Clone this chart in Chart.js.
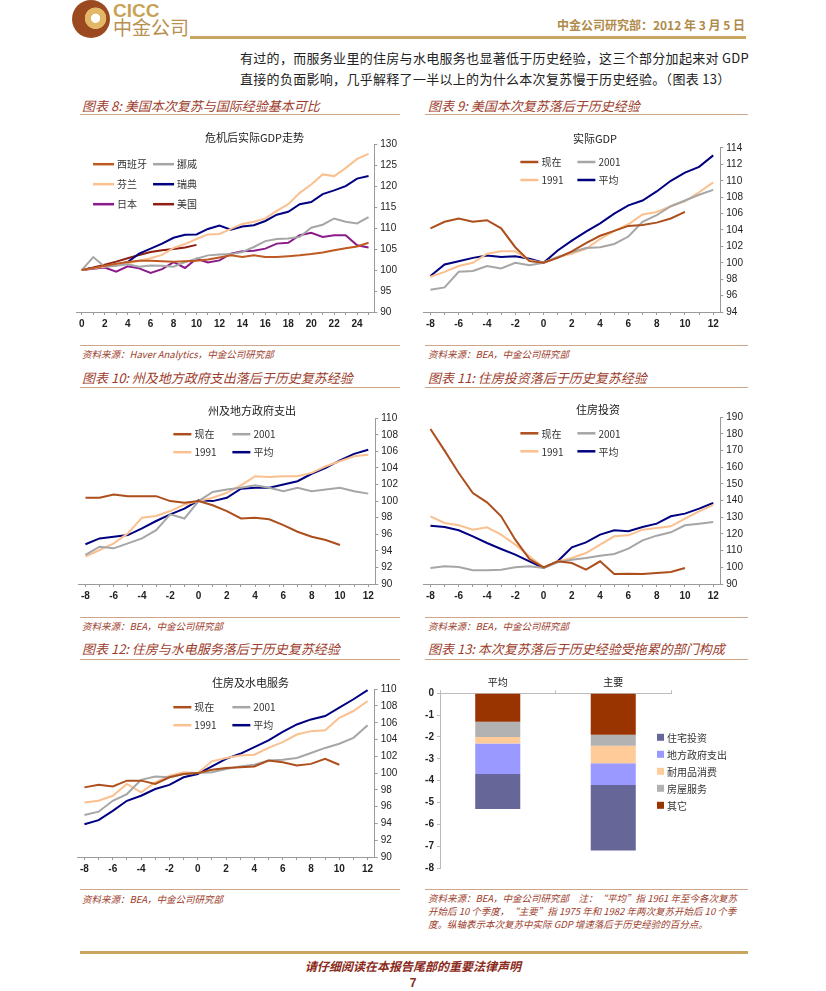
<!DOCTYPE html>
<html>
<head>
<meta charset="utf-8">
<script src="https://cdn.jsdelivr.net/npm/chart.js@4"></script>
<style>
body { margin: 0; background: #fff; width: 826px; height: 991px; position: relative; overflow: hidden; font-family: "Noto Sans CJK SC", sans-serif; }
.abs { position: absolute; white-space: nowrap; }
.ttl { position: absolute; font-size: 13px; line-height: 16px; font-style: italic; color: #9C3D2C; white-space: nowrap; }
.rule { position: absolute; height: 0; border-top: 1.5px solid #D0A68A; }
.src { position: absolute; font-size: 9.5px; line-height: 12px; font-style: italic; color: #9C3D2C; white-space: nowrap; }
canvas { position: absolute; }
</style>
</head>
<body>
<!-- header -->
<div class="abs" style="left:72px;top:0;width:38px;height:38px;border-radius:50%;background:radial-gradient(circle at 62% 48%, #fff 0 14%, #E2B866 16% 34%, #9A4A1E 36% 100%)"></div>
<div class="abs" style="left:113px;top:0;font:bold 19px 'Liberation Sans';color:#C8A255">CICC</div>
<div class="abs" style="left:113px;top:15px;font-size:19px;line-height:24px;color:#B89050">中金公司</div>
<div class="abs" style="left:190px;top:36px;width:556px;height:3px;background:#C9A65F"></div>
<div class="abs" style="right:81px;top:16px;font-size:12px;font-weight:bold;color:#B08A48">中金公司研究部：2012 年 3 月 5 日</div>
<div class="abs" style="left:240px;top:47px;font-size:13px;line-height:21px;letter-spacing:0.3px;color:#222">有过的，而服务业里的住房与水电服务也显著低于历史经验，这三个部分加起来对 GDP<br>直接的负面影响，几乎解释了一半以上的为什么本次复苏慢于历史经验。（图表 13）</div>

<!-- row 1 -->
<div class="ttl" style="left:82px;top:98px">图表 8: 美国本次复苏与国际经验基本可比</div>
<div class="ttl" style="left:428px;top:98px">图表 9: 美国本次复苏落后于历史经验</div>
<div class="rule" style="left:80px;top:114px;width:320px"></div>
<div class="rule" style="left:425px;top:114px;width:323px"></div>
<canvas id="c8"></canvas>
<canvas id="c9"></canvas>
<div class="rule" style="left:80px;top:345px;width:320px;border-top-width:1px"></div>
<div class="rule" style="left:425px;top:345px;width:323px;border-top-width:1px"></div>
<div class="src" style="left:82px;top:348px">资料来源：Haver Analytics，中金公司研究部</div>
<div class="src" style="left:428px;top:348px">资料来源：BEA，中金公司研究部</div>

<!-- row 2 -->
<div class="ttl" style="left:82px;top:370px">图表 10: 州及地方政府支出落后于历史复苏经验</div>
<div class="ttl" style="left:428px;top:370px">图表 11: 住房投资落后于历史复苏经验</div>
<div class="rule" style="left:80px;top:387px;width:320px"></div>
<div class="rule" style="left:425px;top:387px;width:323px"></div>
<canvas id="c10"></canvas>
<canvas id="c11"></canvas>
<div class="rule" style="left:80px;top:617px;width:320px;border-top-width:1px"></div>
<div class="rule" style="left:425px;top:617px;width:323px;border-top-width:1px"></div>
<div class="src" style="left:82px;top:620px">资料来源：BEA，中金公司研究部</div>
<div class="src" style="left:428px;top:620px">资料来源：BEA，中金公司研究部</div>

<!-- row 3 -->
<div class="ttl" style="left:82px;top:641px">图表 12: 住房与水电服务落后于历史复苏经验</div>
<div class="ttl" style="left:428px;top:641px">图表 13: 本次复苏落后于历史经验受拖累的部门构成</div>
<div class="rule" style="left:80px;top:659px;width:320px"></div>
<div class="rule" style="left:425px;top:659px;width:323px"></div>
<canvas id="c12"></canvas>
<canvas id="c13"></canvas>
<div class="rule" style="left:80px;top:889px;width:320px;border-top-width:1px"></div>
<div class="rule" style="left:425px;top:889px;width:323px;border-top-width:1px"></div>
<div class="src" style="left:82px;top:893px">资料来源：BEA，中金公司研究部</div>
<div class="src" style="left:428px;top:892px;line-height:13px">资料来源：BEA，中金公司研究部　注：“平均”指 1961 年至今各次复苏<br>开始后 10 个季度，“主要”指 1975 年和 1982 年两次复苏开始后 10 个季<br>度。纵轴表示本次复苏中实际 GDP 增速落后于历史经验的百分点。</div>

<!-- footer -->
<div class="abs" style="left:80px;top:951px;width:668px;height:3px;background:#C9A65F"></div>
<div class="abs" style="left:0;width:826px;top:958px;text-align:center;font-size:12px;line-height:16px;font-weight:bold;font-style:italic;color:#8B2A1A">请仔细阅读在本报告尾部的重要法律声明</div>
<div class="abs" style="left:0;width:826px;top:976px;text-align:center;font:bold 12px 'Liberation Sans';color:#8B2A1A">7</div>

<script>
// ---- data ----
// chart 8: quarters after crisis
const q8 = [0,1,2,3,4,5,6,7,8,9,10,11,12,13,14,15,16,17,18,19,20,21,22,23,24,25];
const x8Labels = [0,2,4,6,8,10,12,14,16,18,20,22,24];
const spain = [100,100.5,101,101.5,101.9,102.2,102.2,102.1,102.0,102.1,102.2,102.5,103.0,103.5,103.1,103.5,103.1,103.1,103.3,103.5,103.8,104.2,104.7,105.2,105.6,106.5];
const norway = [100,103.1,100.8,101.0,101.4,100.8,101.1,101.0,100.8,101.9,102.7,103.5,103.7,103.8,104.3,105.5,106.9,107.4,107.5,107.9,110.1,110.8,112.3,111.5,111.1,112.6];
const finland = [100,100.4,100.8,101.2,101.6,102.2,102.8,103.6,105.3,106.2,107.4,108.5,108.6,109.8,111.0,111.5,112.3,114.1,115.7,118.4,120.4,122.8,122.4,124.3,126.5,127.7];
const sweden = [100,100.5,100.8,101.2,101.9,103.9,105.1,106.3,107.7,108.4,108.5,109.8,110.6,109.6,110.4,110.7,111.7,113.2,113.9,115.7,116.2,118.1,119.0,120.0,121.8,122.4];
const japan = [100,100.3,100.6,99.6,100.9,100.4,99.3,100.2,101.9,100.5,102.7,101.8,102.3,103.9,104.5,104.6,105.1,106.3,106.5,108.3,108.9,107.9,108.3,108.3,105.9,105.4];
const usa = [100,100.6,101.3,102.0,102.8,103.6,104.3,104.7,105.0,105.4,106.0];

// charts 9-12: quarters around trough
const q = [-8,-7,-6,-5,-4,-3,-2,-1,0,1,2,3,4,5,6,7,8,9,10,11,12];
const xLabels = [-8,-6,-4,-2,0,2,4,6,8,10,12];

const now9 = [104.2,105.0,105.4,105.0,105.2,104.2,101.9,100.2,100,100.6,101.4,102.4,103.3,103.9,104.5,104.6,104.9,105.4,106.2];
const r2001_9 = [96.7,97.0,98.9,99.0,99.6,99.3,100.0,99.7,100,100.7,101.3,101.8,101.9,102.3,103.2,105.0,105.8,106.9,107.6,108.3,108.9];
const r1991_9 = [98.3,98.9,99.6,100.0,101.1,101.4,101.4,100.3,100,100.7,101.1,101.7,102.9,103.9,104.7,105.9,106.2,106.9,107.5,108.6,109.8];
const avg9 = [98.4,99.8,100.2,100.6,100.9,100.7,100.8,100.5,100,101.5,102.7,103.8,104.8,106.0,107.0,107.6,108.7,110.0,111.0,111.7,113.1];

const now10 = [100.4,100.4,100.8,100.6,100.6,100.6,100.0,99.8,100,99.5,98.8,97.9,98.0,97.8,97.1,96.3,95.7,95.3,94.7];
const r2001_10 = [93.5,94.5,94.3,94.9,95.5,96.5,98.4,97.9,100,101.1,101.4,101.6,101.9,101.6,101.2,101.6,101.2,101.4,101.6,101.2,100.9];
const r1991_10 = [93.3,94.1,94.9,96.1,98.0,98.2,98.8,99.6,100,100.4,101.0,101.9,103.0,102.9,103.0,103.0,103.4,104.2,104.8,105.4,105.6];
const avg10 = [94.8,95.5,95.7,95.9,96.7,97.6,98.4,99.1,100.1,100.0,100.4,101.5,101.6,101.6,102.0,102.4,103.3,104.0,104.9,105.7,106.2];

const now11 = [183,170,156.6,144.6,139,130.6,116.6,105,100,103.6,102.6,98.6,103.6,96,96.2,96,96.6,97.2,99.6];
const r2001_11 = [99.6,100.6,100.2,98.2,98.2,98.6,100,100.6,99.6,103,104.6,105.6,107,108,111.2,116.2,119,121,125.2,126.2,127.2];
const r1991_11 = [130.6,126.6,125.2,122.6,124,119.6,113.6,106.6,100,103.6,105.6,108.6,113.6,118.6,119.2,122.6,123.6,124.6,129.2,133.6,137.5];
const avg11 = [125,124.2,122.2,118.6,114.6,111,107.6,103.6,99.6,103.6,112,115,119.6,122.2,121.6,124.2,126.2,130.6,132.2,135.2,138.6];

const now12 = [98.3,98.6,98.4,99.1,99.1,98.7,99.5,99.9,100,100.4,100.6,100.7,100.8,101.5,101.3,100.9,101.1,101.7,101.0];
const r2001_12 = [95.0,95.4,96.7,97.5,99.2,99.6,99.5,99.9,100,100.1,100.5,100.8,101.0,101.5,101.6,101.8,102.4,103.0,103.5,104.2,105.7];
const r1991_12 = [96.5,96.7,97.3,98.7,97.7,98.9,99.7,100.1,100,101.4,101.8,102.1,102.2,103.0,103.7,104.6,105.0,105.1,106.6,107.4,108.6];
const avg12 = [93.9,94.4,95.5,96.7,97.3,98.1,98.6,99.5,99.9,100.8,101.7,102.3,103.1,103.9,104.9,105.8,106.4,106.8,107.8,108.8,109.9];

// chart 13: percentage points, stacked from 0 downward
const cats13 = ['平均', '主要'];
const other13 = [-1.3, -1.9];
const housingSvc13 = [-0.7, -0.5];
const durables13 = [-0.3, -0.8];
const localGov13 = [-1.4, -1.0];
const resInv13 = [-1.6, -3.0];

// ---- styling ----
Chart.defaults.font.family = '"Liberation Sans", "Noto Sans CJK SC", sans-serif';
Chart.defaults.font.size = 10;
Chart.defaults.color = '#222';

const C_NOW = '#AD4F1C', C_2001 = '#A6A6A6', C_1991 = '#FAC08F', C_AVG = '#000080';
const AXIS = '#9A9A9A';

// legend drawn inside the plot, laid out in a grid like the original
const gridLegend = {
  id: 'gridLegend',
  afterDatasetsDraw(chart, args, o) {
    if (!o || !o.cols) return;
    const ctx = chart.ctx, a = chart.chartArea;
    let sets = chart.data.datasets.slice();
    if (o.reverse) sets.reverse();
    ctx.save();
    ctx.font = '10px "Noto Sans CJK SC", "Liberation Sans"';
    ctx.textBaseline = 'middle';
    sets.forEach((ds, i) => {
      const x = a.left + o.x + (i % o.cols) * o.colW;
      const y = a.top + o.y + Math.floor(i / o.cols) * o.rowH;
      if (o.box) {
        ctx.fillStyle = ds.backgroundColor;
        ctx.fillRect(x, y - 3.5, 7, 7);
      } else {
        ctx.strokeStyle = ds.borderColor;
        ctx.lineWidth = 2.5;
        ctx.beginPath(); ctx.moveTo(x, y); ctx.lineTo(x + o.len, y); ctx.stroke();
      }
      ctx.fillStyle = '#333';
      ctx.fillText(ds.label, x + o.len + 3, y + 0.5);
    });
    ctx.restore();
  }
};

function range(a, b) { const r = []; for (let v = Math.ceil(a); v <= b; v++) r.push(v); return r; }

// g: plot box (L,T,R,B), subtitle centre (cx, ty)
function lineChart(id, g, title, xs, xl, xr, yr, series, legend) {
  const yw = 2 * g.cx - g.L - g.R;     // right axis width so the title centres where the original does
  const xh = 18;
  const top = g.ty - 6.6;
  const gap = Math.max(0, g.T - g.ty - 6.6);
  const cv = document.getElementById(id);
  cv.width = Math.round(g.R - g.L + yw);
  cv.height = Math.round(g.B + xh - top);
  cv.style.left = g.L + 'px';
  cv.style.top = top + 'px';
  return new Chart(cv, {
    type: 'line',
    data: {
      datasets: series.map(s => ({
        label: s.label,
        data: s.data.map((v, i) => ({ x: xs[i], y: v })),
        borderColor: s.color, borderWidth: 2, pointRadius: 0, tension: 0
      }))
    },
    options: {
      responsive: false, animation: false,
      plugins: {
        legend: { display: false }, tooltip: { enabled: false },
        title: { display: true, text: title, color: '#222', font: { size: 11, weight: 'normal', family: '"Noto Sans CJK SC", "Liberation Sans"' }, padding: { top: 0, bottom: gap } },
        gridLegend: legend
      },
      scales: {
        x: {
          type: 'linear', min: xr[0], max: xr[1],
          afterBuildTicks: ax => { ax.ticks = range(xr[0], xr[1]).map(v => ({ value: v })); },
          afterFit: ax => { ax.height = xh; },
          ticks: { autoSkip: false, maxRotation: 0, padding: 3, font: { weight: 'bold' }, callback: v => xl.includes(v) ? String(v) : '' },
          grid: { display: true, drawOnChartArea: false, tickLength: 3, color: AXIS },
          border: { color: AXIS }
        },
        y: {
          position: 'right', min: yr[0], max: yr[1],
          afterFit: ax => { ax.width = yw; },
          ticks: { stepSize: yr[2], padding: 3 },
          grid: { display: true, drawOnChartArea: false, tickLength: 3, color: AXIS },
          border: { color: AXIS }
        }
      }
    },
    plugins: [gridLegend]
  });
}

function fourSeries(a, b, c, d) {
  return [
    { label: '现在', data: a, color: C_NOW },
    { label: '2001', data: b, color: C_2001 },
    { label: '1991', data: c, color: C_1991 },
    { label: '平均', data: d, color: C_AVG }
  ];
}

lineChart('c8', { L: 76.3, T: 142.7, R: 375, B: 312.3, cx: 255, ty: 138 }, '危机后实际GDP走势',
  q8, x8Labels, [-0.5, 25.5], [90, 130, 5], [
    { label: '西班牙', data: spain, color: '#BF5A22' },
    { label: '挪威', data: norway, color: C_2001 },
    { label: '芬兰', data: finland, color: C_1991 },
    { label: '瑞典', data: sweden, color: C_AVG },
    { label: '日本', data: japan, color: '#8B1A8B' },
    { label: '美国', data: usa, color: '#8E1F12' }
  ], { cols: 2, x: 17, y: 20, colW: 60, rowH: 20, len: 21 });

lineChart('c9', { L: 422.9, T: 147.7, R: 720.4, B: 311.7, cx: 595, ty: 138.3 }, '实际GDP',
  q, xLabels, [-8.5, 12.5], [94, 114, 2], fourSeries(now9, r2001_9, r1991_9, avg9),
  { cols: 2, x: 97, y: 14, colW: 57, rowH: 18, len: 18 });

lineChart('c10', { L: 77.9, T: 418.3, R: 375.4, B: 584.3, cx: 252, ty: 410.7 }, '州及地方政府支出',
  q, xLabels, [-8.5, 12.5], [90, 110, 2], fourSeries(now10, r2001_10, r1991_10, avg10),
  { cols: 2, x: 95, y: 16, colW: 59, rowH: 18, len: 18 });

lineChart('c11', { L: 422.9, T: 417.7, R: 720.4, B: 584.3, cx: 598, ty: 410 }, '住房投资',
  q, xLabels, [-8.5, 12.5], [90, 190, 10], fourSeries(now11, r2001_11, r1991_11, avg11),
  { cols: 2, x: 97, y: 16, colW: 57, rowH: 18, len: 18 });

lineChart('c12', { L: 77.3, T: 688.3, R: 375.4, B: 856.7, cx: 251, ty: 682.7 }, '住房及水电服务',
  q, xLabels, [-8.5, 12.5], [90, 110, 2], fourSeries(now12, r2001_12, r1991_12, avg12),
  { cols: 2, x: 96, y: 18, colW: 59, rowH: 18, len: 18 });

// chart 13: stacked bars
(function () {
  const cv = document.getElementById('c13');
  cv.width = 330; cv.height = 202;
  cv.style.left = '418px'; cv.style.top = '675px';
  new Chart(cv, {
    type: 'bar',
    data: {
      labels: cats13,
      datasets: [
        { label: '其它', data: other13, backgroundColor: '#993300' },
        { label: '房屋服务', data: housingSvc13, backgroundColor: '#B2B2B2' },
        { label: '耐用品消费', data: durables13, backgroundColor: '#FFCC99' },
        { label: '地方政府支出', data: localGov13, backgroundColor: '#9999FF' },
        { label: '住宅投资', data: resInv13, backgroundColor: '#666699' }
      ]
    },
    options: {
      responsive: false, animation: false,
      barPercentage: 0.39, categoryPercentage: 1,
      layout: { padding: { right: 77, bottom: 8 } },
      plugins: {
        legend: { display: false }, tooltip: { enabled: false },
        gridLegend: { cols: 1, x: 217, y: 44, colW: 0, rowH: 17, len: 7, box: true, reverse: true }
      },
      scales: {
        x: {
          position: 'top', stacked: true,
          afterFit: ax => { ax.height = 18.3; },
          ticks: { padding: 2, font: { family: '"Noto Sans CJK SC"' } },
          grid: { display: true, drawOnChartArea: false, tickLength: 3, color: '#BBBBBB' },
          border: { color: '#BBBBBB' }
        },
        y: {
          stacked: true, min: -8, max: 0,
          afterFit: ax => { ax.width = 22; },
          ticks: { stepSize: 1, padding: 3, font: { weight: 'bold' } },
          grid: { display: true, drawOnChartArea: false, tickLength: 3, color: '#BBBBBB' },
          border: { color: '#BBBBBB' }
        }
      }
    },
    plugins: [gridLegend]
  });
})();
</script>
</body>
</html>
